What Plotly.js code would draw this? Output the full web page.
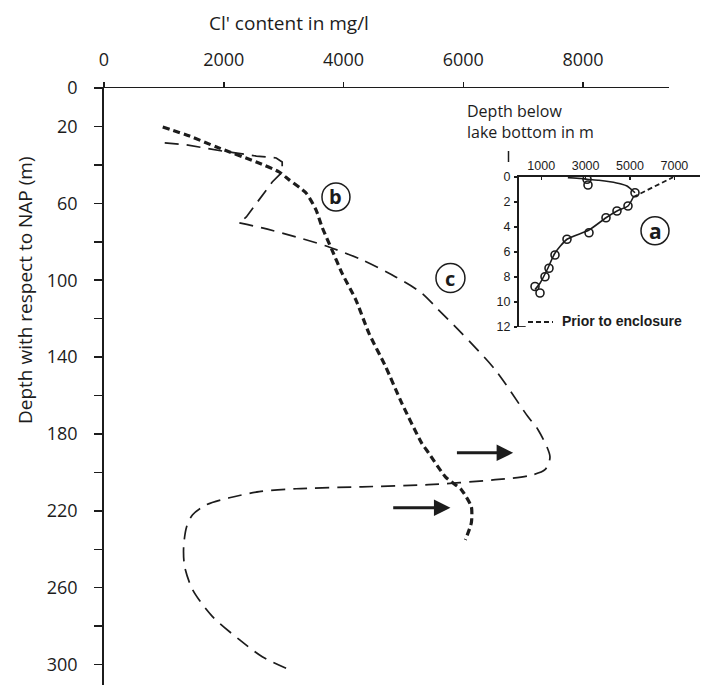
<!DOCTYPE html>
<html>
<head>
<meta charset="utf-8">
<script src="https://cdn.plot.ly/plotly-3.0.1.min.js"></script>
<style>html,body{margin:0;padding:0;background:#fff;}#chart{width:701px;height:685px;}</style>
</head>
<body>
<div id="chart"></div>
<script>
// ---- Main chart data (Cl- content in mg/l vs depth w.r.t. NAP in m) ----
const curveB_x = [981, 1430, 1879, 2544, 2926, 3092, 3375, 3541, 3641, 3807, 3973, 4206, 4422, 4705, 4971, 5303, 5420, 5702, 5968, 6135, 6135, 6035];
const curveB_y = [20.3, 25.0, 30.7, 38.5, 43.7, 47.8, 54.6, 63.4, 72.3, 84.2, 96.2, 110.2, 127.4, 145.1, 163.8, 184.6, 189.8, 202.3, 209, 217.9, 226.2, 235.1];

// curve c, upper part (with the hook) down to the sharp corner
const curveCUpper_x = [1014, 1380, 1978, 2544, 2876, 2976, 2976, 2810, 2377, 2261];
const curveCUpper_y = [28.6, 29.6, 32.8, 35.4, 36.4, 38.5, 43.7, 48.9, 67.1, 70.2];
// curve c, smooth lower part from the corner
const curveCLower_x = [2261, 2643, 3209, 3757, 4306, 4871, 5303, 5586, 5968, 6534, 7082, 7249, 7448, 7365, 7082, 6534, 5420, 4306, 3209, 2593, 2095, 1712, 1480, 1380, 1330, 1347, 1480, 1812, 2261, 2643, 3092];
const curveCLower_y = [70.2, 72.8, 77.5, 82.7, 89.4, 98.3, 106.6, 115.4, 127.4, 146.6, 171.1, 177.8, 191.9, 198.6, 201.8, 203.8, 206.4, 207.5, 208.5, 210, 213.2, 216.8, 222, 228.3, 238.7, 249, 261, 275, 287, 295.9, 302.6];

const xTickVals = [0, 2000, 4000, 6000, 8000];
const xTickText = ['0', '2000', '4000', '6000', '8000'];
const yTickVals = [0, 20, 40, 60, 80, 100, 120, 140, 160, 180, 200, 220, 240, 260, 280, 300];
const yTickText = ['0', '20', '', '60', '', '100', '', '140', '', '180', '', '220', '', '260', '', '300'];

// arrows marking (x tail, x head, depth)
const arrowTailX = [5869, 4805];
const arrowHeadX = [6833, 5786];
const arrowDepth = [189.8, 218.4];

// ---- Inset (a): depth below lake bottom in m ----
const insetPts_x = [3063, 3108, 5225, 4910, 4414, 3919, 3153, 2162, 1622, 1351, 1171, 721, 946];
const insetPts_y = [0.18, 0.64, 1.26, 2.32, 2.72, 3.26, 4.46, 4.98, 6.24, 7.30, 7.98, 8.76, 9.28];
const insetUpper_x = [2200, 2800, 3063, 3600, 4099, 4600, 4865, 5225];
const insetUpper_y = [0.05, 0.12, 0.18, 0.26, 0.38, 0.56, 0.72, 1.26];
const insetLower_x = [5150, 4910, 4414, 3919, 3153, 2162, 1622, 1261, 946, 721];
const insetLower_y = [1.6, 2.32, 2.72, 3.26, 4.24, 4.98, 6.08, 7.44, 8.5, 9.0];
const prior_x = [5150, 6940];
const prior_y = [1.6, 0.02];
const insetXTicks = [1000, 3000, 5000, 7000];
const insetYTicks = [0, 2, 4, 6, 8, 10, 12];

const INK = '#1c1c1c';
const FONT = 'Open Sans, Noto Sans, sans-serif';
const AFONT = 'Liberation Sans, Arial, sans-serif';

const cLine = {color: INK, width: 1.7, dash: '14px,8px'};
const traces = [
  {x: curveCUpper_x, y: curveCUpper_y, type: 'scatter', mode: 'lines', name: 'c',
   line: cLine, xaxis: 'x', yaxis: 'y', showlegend: false},
  {x: curveCLower_x, y: curveCLower_y, type: 'scatter', mode: 'lines', name: 'c',
   line: Object.assign({shape: 'spline', smoothing: 0.8}, cLine), xaxis: 'x', yaxis: 'y', showlegend: false},
  {x: curveB_x, y: curveB_y, type: 'scatter', mode: 'lines', name: 'b',
   line: {color: INK, width: 3.2, dash: '7px,4px', shape: 'spline', smoothing: 0.6}, xaxis: 'x', yaxis: 'y', showlegend: false},
  {x: insetUpper_x, y: insetUpper_y, type: 'scatter', mode: 'lines', name: 'after (upper)',
   line: {color: INK, width: 1.6, shape: 'spline', smoothing: 0.6}, xaxis: 'x2', yaxis: 'y2', showlegend: false},
  {x: insetLower_x, y: insetLower_y, type: 'scatter', mode: 'lines', name: 'after (lower)',
   line: {color: INK, width: 1.6, shape: 'spline', smoothing: 0.6}, xaxis: 'x2', yaxis: 'y2', showlegend: false},
  {x: prior_x, y: prior_y, type: 'scatter', mode: 'lines', name: 'Prior to enclosure',
   line: {color: INK, width: 1.8, dash: '5px,3px'}, xaxis: 'x2', yaxis: 'y2', showlegend: false},
  {x: insetPts_x, y: insetPts_y, type: 'scatter', mode: 'markers', name: 'measured',
   marker: {symbol: 'circle-open', size: 8, color: INK, line: {width: 1.6, color: INK}},
   xaxis: 'x2', yaxis: 'y2', showlegend: false}
];

const W = 701, H = 685, L = 104, T = 88;
const PW = W - L, PH = H - T;
const px2paperX = p => (p - L) / PW;
const px2paperY = p => (H - p) / PH;

const annotations = [
  {text: "Cl' content in mg/l", xref: 'paper', yref: 'paper', x: px2paperX(207), y: px2paperY(23),
   xanchor: 'left', yanchor: 'middle', showarrow: false, font: {family: FONT, size: 19, color: INK}},
  {text: 'Depth with respect to NAP (m)', xref: 'paper', yref: 'paper', x: px2paperX(25), y: px2paperY(290),
   xanchor: 'center', yanchor: 'middle', textangle: -90, showarrow: false, font: {family: FONT, size: 19, color: INK}},
  {text: 'Depth below<br>lake bottom in m', xref: 'paper', yref: 'paper', x: px2paperX(465), y: px2paperY(121),
   xanchor: 'left', yanchor: 'middle', align: 'left', showarrow: false, font: {family: FONT, size: 16, color: INK}},
  {text: 'Prior to enclosure', xref: 'x2', yref: 'y2', x: 1847, y: 11.55,
   xanchor: 'left', yanchor: 'middle', showarrow: false, font: {family: AFONT, size: 14, color: INK, weight: 'bold'}},
  {text: 'b', xref: 'x', yref: 'y', x: 3874, y: 56.7, showarrow: false, font: {family: FONT, size: 20, color: INK, weight: 'bold'}},
  {text: 'c', xref: 'x', yref: 'y', x: 5786, y: 98.9, showarrow: false, font: {family: FONT, size: 20, color: INK, weight: 'bold'}},
  {text: 'a', xref: 'x2', yref: 'y2', x: 6126, y: 4.3, showarrow: false, font: {family: FONT, size: 21, color: INK, weight: 'bold'}}
];
for (let i = 0; i < arrowTailX.length; i++) {
  annotations.push({x: arrowHeadX[i], y: arrowDepth[i], ax: arrowTailX[i], ay: arrowDepth[i],
    xref: 'x', yref: 'y', axref: 'x', ayref: 'y', text: '', showarrow: true,
    arrowhead: 2, arrowsize: 1.1, arrowwidth: 3, arrowcolor: INK});
}

function circle(xref, yref, cx, cy, r) {
  return {type: 'circle', xref: xref, yref: yref, xsizemode: 'pixel', ysizemode: 'pixel',
    xanchor: cx, yanchor: cy, x0: -r, x1: r, y0: -r, y1: r, line: {color: INK, width: 1.5}};
}

const shapes = [
  circle('x', 'y', 3874, 56.7, 14),
  circle('x', 'y', 5786, 98.9, 14.5),
  circle('x2', 'y2', 6126, 4.3, 14),
  // small stroke under inset title
  {type: 'line', xref: 'paper', yref: 'paper', x0: px2paperX(508.5), x1: px2paperX(508.5), y0: px2paperY(151), y1: px2paperY(162),
   line: {color: INK, width: 1.5}},
  // bottom stub of inset depth axis
  {type: 'line', xref: 'x2', yref: 'y2', x0: 0, x1: 300, y0: 12, y1: 12, line: {color: INK, width: 1.8}},
  // legend sample for "Prior to enclosure"
  {type: 'line', xref: 'x2', yref: 'y2', x0: 405, x1: 1531, y0: 11.6, y1: 11.6, line: {color: INK, width: 1.8, dash: '5px,3px'}}
];

const layout = {
  width: W, height: H,
  margin: {l: L, r: 0, t: T, b: 0, pad: 0},
  paper_bgcolor: '#ffffff', plot_bgcolor: 'rgba(0,0,0,0)',
  showlegend: false,
  xaxis: {
    domain: [0, (669 - L) / PW], range: [0, 9436], side: 'top', anchor: 'y',
    showline: true, linecolor: INK, linewidth: 1.5, showgrid: false, zeroline: false,
    tickmode: 'array', tickvals: xTickVals, ticktext: xTickText,
    ticks: 'outside', ticklen: 5, tickwidth: 1.5, tickcolor: INK, ticklabelstandoff: 8,
    tickfont: {family: FONT, size: 18, color: INK}
  },
  yaxis: {
    domain: [0, 1], range: [310.6, 0], anchor: 'x',
    showline: true, linecolor: INK, linewidth: 1.8, showgrid: false, zeroline: false,
    tickmode: 'array', tickvals: yTickVals, ticktext: yTickText,
    ticks: 'outside', ticklen: 8, tickwidth: 1.5, tickcolor: INK, ticklabelstandoff: 13,
    tickfont: {family: FONT, size: 18, color: INK}
  },
  xaxis2: {
    domain: [px2paperX(519), px2paperX(700)], range: [0, 8153], side: 'top', anchor: 'y2',
    showline: true, linecolor: INK, linewidth: 2, showgrid: false, zeroline: false,
    tickmode: 'array', tickvals: insetXTicks,
    ticks: 'inside', ticklen: 3, tickwidth: 1.2, tickcolor: INK, ticklabelstandoff: 0,
    tickfont: {family: AFONT, size: 12.5, color: INK}
  },
  yaxis2: {
    domain: [px2paperY(327), px2paperY(177)], range: [12, 0], anchor: 'x2',
    showline: true, linecolor: INK, linewidth: 2, showgrid: false, zeroline: false,
    tickmode: 'array', tickvals: insetYTicks,
    ticks: 'outside', ticklen: 3, tickwidth: 1.2, tickcolor: INK, ticklabelstandoff: 1,
    tickfont: {family: AFONT, size: 12.5, color: INK}
  },
  annotations: annotations,
  shapes: shapes
};

Plotly.newPlot('chart', traces, layout, {staticPlot: true, displayModeBar: false});
</script>
</body>
</html>
